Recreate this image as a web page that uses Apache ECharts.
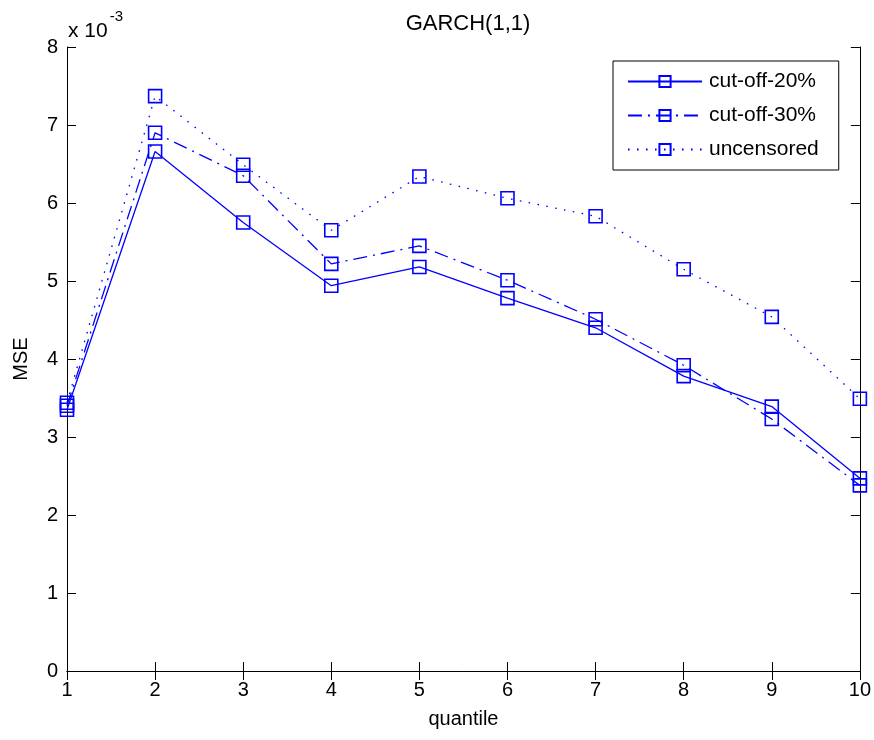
<!DOCTYPE html>
<html>
<head>
<meta charset="utf-8">
<script src="https://cdn.jsdelivr.net/npm/echarts@6/dist/echarts.min.js"></script>
<style>
  html, body { margin: 0; padding: 0; background: #fff; }
  #chart { width: 874px; height: 740px; }
</style>
</head>
<body>
<div id="chart"></div>
<script>
// Quantile index on the x axis
const quantiles = [1, 2, 3, 4, 5, 6, 7, 8, 9, 10];

// Mean squared error per quantile (units of 1e-3)
const cutoff20 = [3.35, 6.66, 5.75, 4.94, 5.18, 4.78, 4.40, 3.78, 3.39, 2.47];
const cutoff30 = [3.40, 6.90, 6.35, 5.22, 5.45, 5.01, 4.51, 3.92, 3.23, 2.38];
const uncensored = [3.44, 7.37, 6.49, 5.65, 6.34, 6.06, 5.83, 5.15, 4.54, 3.49];

const seriesNames = ['cut-off-20%', 'cut-off-30%', 'uncensored'];
const SCALE = 1e-3;

const FONT = 'Liberation Sans, Arial, sans-serif';
const BLUE = '#0000ff';
const TXT = '#000';
const FS = 20;

function pairs(vals) {
  return quantiles.map((q, i) => [q, vals[i] * SCALE]);
}

function lineSeries(name, vals, dash) {
  return {
    name: name,
    type: 'line',
    data: pairs(vals),
    symbol: 'rect',
    symbolSize: 13,
    showSymbol: true,
    z: 3,
    lineStyle: { color: BLUE, width: 1.3, type: dash },
    itemStyle: { color: 'rgba(0,0,0,0)', borderColor: BLUE, borderWidth: 1.6 },
    emphasis: { disabled: true },
    animation: false
  };
}

const chart = echarts.init(document.getElementById('chart'), null, { renderer: 'canvas' });

const axisBase = {
  type: 'value',
  axisLine: { show: true, lineStyle: { color: '#000', width: 1 } },
  axisTick: { show: true, inside: true, length: 9, lineStyle: { color: '#000' } },
  splitLine: { show: false },
  axisLabel: { show: false }
};

chart.setOption({
  backgroundColor: '#fff',
  animation: false,
  title: {
    text: 'GARCH(1,1)',
    left: 463,
    top: 8,
    textAlign: 'center',
    textStyle: { fontFamily: FONT, fontSize: 22, fontWeight: 'normal', color: TXT }
  },
  grid: { left: 67, right: 14, top: 47, bottom: 69, containLabel: false },
  legend: {
    data: seriesNames,
    orient: 'vertical',
    left: 613,
    top: 61,
    padding: [10, 20, 10, 14],
    itemGap: 13,
    itemWidth: 74,
    itemHeight: 14,
    borderColor: '#000',
    borderWidth: 1,
    backgroundColor: '#fff',
    selectedMode: false,
    textStyle: { fontFamily: FONT, fontSize: 21, color: TXT, padding: [0, 0, 0, 2] }
  },
  xAxis: [
    Object.assign({}, axisBase, {
      position: 'bottom',
      min: 1, max: 10, interval: 1,
      axisLabel: { show: true, color: TXT, fontFamily: FONT, fontSize: FS, margin: 9 },
      name: 'quantile',
      nameLocation: 'middle',
      nameGap: 38,
      nameTextStyle: { fontFamily: FONT, fontSize: FS, color: TXT }
    }),
    Object.assign({}, axisBase, { position: 'top', min: 1, max: 10, interval: 1 })
  ],
  yAxis: [
    Object.assign({}, axisBase, {
      position: 'left',
      min: 0, max: 8 * SCALE, interval: SCALE,
      axisLabel: {
        show: true, color: TXT, fontFamily: FONT, fontSize: FS, margin: 9,
        formatter: v => String(Math.round(v / SCALE))
      },
      name: 'MSE',
      nameLocation: 'middle',
      nameGap: 36,
      nameTextStyle: { fontFamily: FONT, fontSize: FS, color: TXT }
    }),
    Object.assign({}, axisBase, { position: 'right', min: 0, max: 8 * SCALE, interval: SCALE })
  ],
  graphic: [
    {
      type: 'text',
      left: 68,
      top: 9,
      style: {
        text: '{b|x 10}{s|-3}',
        rich: {
          b: { fontFamily: FONT, fontSize: 21, fill: TXT, verticalAlign: 'bottom', padding: [12, 0, 0, 0] },
          s: { fontFamily: FONT, fontSize: 15, fill: TXT, verticalAlign: 'top', padding: [0, 0, 12, 2] }
        }
      }
    }
  ],
  series: [
    lineSeries(seriesNames[0], cutoff20, 'solid'),
    lineSeries(seriesNames[1], cutoff30, [14, 6, 2, 6]),
    lineSeries(seriesNames[2], uncensored, [1.6, 7.4])
  ]
});
</script>
</body>
</html>
